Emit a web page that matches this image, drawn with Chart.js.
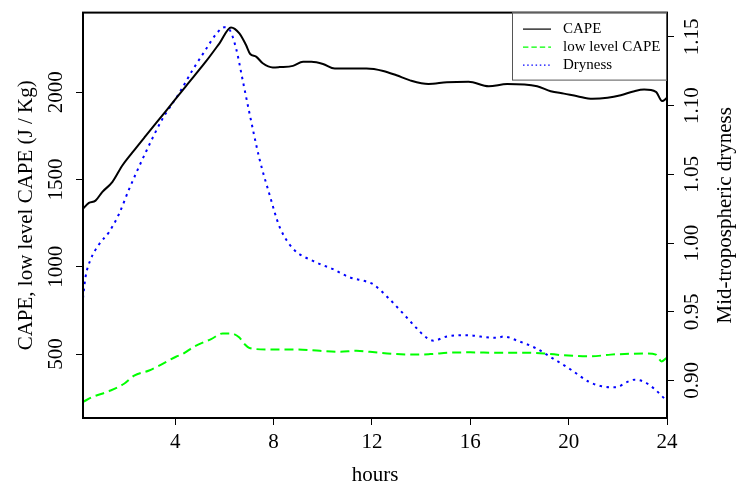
<!DOCTYPE html>
<html>
<head>
<meta charset="utf-8">
<title>CAPE and dryness</title>
<script src="https://cdn.jsdelivr.net/npm/chart.js@4.4.1/dist/chart.umd.min.js"></script>
<style>
  body { margin: 0; background: #fff; }
  #grafico { display: block; }
</style>
</head>
<body>
<canvas id="grafico" width="739" height="485"></canvas>
<script>
// values (hours since start)
const capeHours = [0.25, 0.49, 0.76, 1.03, 1.44, 1.85, 2.26, 2.8, 3.62, 4.43, 5.25, 5.8, 6.27, 6.61, 6.88, 7.05, 7.29, 7.56, 7.97, 8.24, 8.79, 9.2, 9.54, 10.01, 10.49, 11.78, 12.46, 13.0, 13.55, 14.3, 15.05, 15.93, 16.75, 17.5, 18.72, 19.27, 19.81, 20.35, 20.97, 21.58, 22.12, 22.67, 23.07, 23.55, 23.8, 24.0];
const capeValues = [1333, 1366, 1379, 1428, 1485, 1580, 1655, 1750, 1892, 2034, 2176, 2280, 2371, 2337, 2270, 2219, 2204, 2166, 2142, 2144, 2151, 2174, 2174, 2162, 2136, 2136, 2122, 2097, 2068, 2047, 2057, 2060, 2034, 2047, 2034, 2006, 1992, 1977, 1962, 1968, 1983, 2006, 2015, 2002, 1949, 1968];

const lowCapeHours = [0.25, 0.63, 1.31, 1.92, 2.33, 2.94, 3.35, 4.03, 4.3, 4.78, 5.46, 5.93, 6.27, 6.61, 6.82, 7.02, 7.69, 8.91, 9.88, 10.69, 11.37, 11.92, 13.0, 13.82, 14.37, 15.18, 16.0, 17.09, 18.18, 19.0, 19.81, 20.9, 21.71, 22.53, 23.21, 23.55, 23.78, 24.0];
const lowCapeValues = [226, 254, 288, 330, 377, 406, 434, 485, 500, 544, 586, 618, 618, 595, 557, 535, 527, 527, 519, 513, 519, 513, 500, 497, 500, 508, 510, 508, 508, 504, 493, 487, 497, 502, 504, 497, 458, 481];

const drynessHours = [0.25, 0.35, 0.56, 0.9, 1.31, 1.71, 2.12, 2.8, 3.47, 4.16, 4.71, 5.25, 5.66, 6.0, 6.2, 6.47, 6.75, 7.02, 7.43, 7.84, 8.24, 8.79, 9.6, 10.42, 11.1, 11.78, 12.05, 12.67, 13.28, 13.82, 14.23, 14.5, 15.05, 15.86, 16.41, 17.09, 17.36, 17.91, 18.72, 19.27, 20.08, 20.83, 21.31, 21.92, 22.39, 22.69, 23.07, 23.48, 23.89];
const drynessValues = [0.960, 0.975, 0.988, 0.999, 1.008, 1.021, 1.039, 1.066, 1.090, 1.109, 1.126, 1.141, 1.152, 1.157, 1.1555, 1.142, 1.118, 1.0945, 1.061, 1.035, 1.012, 0.996, 0.987, 0.981, 0.975, 0.972, 0.970, 0.960, 0.9485, 0.938, 0.931, 0.929, 0.932, 0.933, 0.932, 0.931, 0.932, 0.929, 0.923, 0.917, 0.908, 0.899, 0.896, 0.895, 0.899, 0.9006, 0.899, 0.894, 0.887];

const hourTicks = [4, 8, 12, 16, 20, 24];
const capeTicks = [500, 1000, 1500, 2000];
const drynessTicks = [0.90, 0.95, 1.00, 1.05, 1.10, 1.15];

const seriesLabels = ['CAPE', 'low level CAPE', 'Dryness'];

const fuente = 'Liberation Serif';

function aPuntos(xs, ys) {
    return xs.map(function(x, i) { return { x: x, y: ys[i] }; });
}

function ticksFijos(lista) {
    return function(scale) {
        scale.ticks = lista.map(function(v) { return { value: v }; });
    };
}

// frame, axis titles and the legend box
const extras = {
    id: 'extras',
    afterDraw: function(chart) {
        const ctx = chart.ctx;
        const a = chart.chartArea;
        ctx.save();
        ctx.strokeStyle = '#000';
        ctx.lineWidth = 2;
        ctx.strokeRect(a.left, a.top, a.right - a.left, a.bottom - a.top);

        ctx.fillStyle = '#000';
        ctx.font = '21px "' + fuente + '"';
        ctx.textAlign = 'center';
        ctx.textBaseline = 'middle';
        const medio = (a.top + a.bottom) / 2;
        ctx.fillText('hours', (a.left + a.right) / 2, 475);

        ctx.save();
        ctx.translate(26, medio);
        ctx.rotate(-Math.PI / 2);
        ctx.fillText('CAPE, low level CAPE (J / Kg)', 0, 0);
        ctx.restore();

        ctx.save();
        ctx.translate(725, medio);
        ctx.rotate(-Math.PI / 2);
        ctx.fillText('Mid-tropospheric dryness', 0, 0);
        ctx.restore();

        // legend
        const lx = 512, ly = a.top, lw = a.right - 512, lh = 68;
        ctx.fillStyle = '#fff';
        ctx.fillRect(lx, ly, lw, lh);
        ctx.strokeStyle = '#555';
        ctx.lineWidth = 1;
        ctx.strokeRect(lx + 0.5, ly + 0.5, lw - 1, lh - 1);
        ctx.font = '15px "' + fuente + '"';
        ctx.textAlign = 'left';
        chart.data.datasets.forEach(function(ds, i) {
            const y = ly + 16.5 + i * 18;
            ctx.strokeStyle = ds.borderColor;
            ctx.lineWidth = 1.2;
            ctx.setLineDash(ds.borderDash ? ds.borderDash.map(function(d) { return d * 0.6; }) : []);
            ctx.beginPath();
            ctx.moveTo(523, y);
            ctx.lineTo(551, y);
            ctx.stroke();
            ctx.setLineDash([]);
            ctx.fillStyle = '#000';
            ctx.fillText(ds.label, 563, y);
        });
        ctx.restore();
    }
};

const ejeComun = {
    border: { display: false },
    grid: { display: true, drawOnChartArea: false, drawTicks: true, tickLength: 7, color: '#000', lineWidth: 1 }
};

new Chart(document.getElementById('grafico'), {
    type: 'line',
    data: {
        datasets: [{
            label: seriesLabels[0],
            data: aPuntos(capeHours, capeValues),
            yAxisID: 'y',
            borderColor: '#000000',
            borderWidth: 2,
            pointRadius: 0,
            cubicInterpolationMode: 'monotone'
        }, {
            label: seriesLabels[1],
            data: aPuntos(lowCapeHours, lowCapeValues),
            yAxisID: 'y',
            borderColor: '#00ff00',
            borderWidth: 2,
            borderDash: [9, 5],
            pointRadius: 0,
            cubicInterpolationMode: 'monotone'
        }, {
            label: seriesLabels[2],
            data: aPuntos(drynessHours, drynessValues),
            yAxisID: 'y1',
            borderColor: '#0000ff',
            borderWidth: 2,
            borderDash: [2.5, 4.5],
            pointRadius: 0,
            cubicInterpolationMode: 'monotone'
        }]
    },
    options: {
        responsive: false,
        animation: false,
        layout: { padding: { top: 8, left: 0, right: 0, bottom: 0 } },
        plugins: {
            legend: { display: false },
            tooltip: { enabled: false }
        },
        scales: {
            x: Object.assign({}, ejeComun, {
                type: 'linear',
                min: 0.25,
                max: 24,
                afterBuildTicks: ticksFijos(hourTicks),
                afterFit: function(scale) { scale.height = 67; },
                ticks: { autoSkip: false, maxRotation: 0, color: '#000', padding: 5, font: { family: fuente, size: 21 } }
            }),
            y: Object.assign({}, ejeComun, {
                type: 'linear',
                position: 'left',
                min: 134,
                max: 2456,
                afterBuildTicks: ticksFijos(capeTicks),
                afterFit: function(scale) { scale.width = 83; },
                ticks: {
                    autoSkip: false, minRotation: 90, maxRotation: 90, crossAlign: 'center', color: '#000', padding: -1,
                    font: { family: fuente, size: 21 },
                    callback: function(v) { return String(v); }
                }
            }),
            y1: Object.assign({}, ejeComun, {
                type: 'linear',
                position: 'right',
                min: 0.8727,
                max: 1.1677,
                afterBuildTicks: ticksFijos(drynessTicks),
                afterFit: function(scale) { scale.width = 72; },
                ticks: {
                    autoSkip: false, minRotation: 90, maxRotation: 90, crossAlign: 'center', color: '#000', padding: 0,
                    font: { family: fuente, size: 21 },
                    callback: function(v) { return Number(v).toFixed(2); }
                }
            })
        }
    },
    plugins: [extras]
});
</script>
</body>
</html>
